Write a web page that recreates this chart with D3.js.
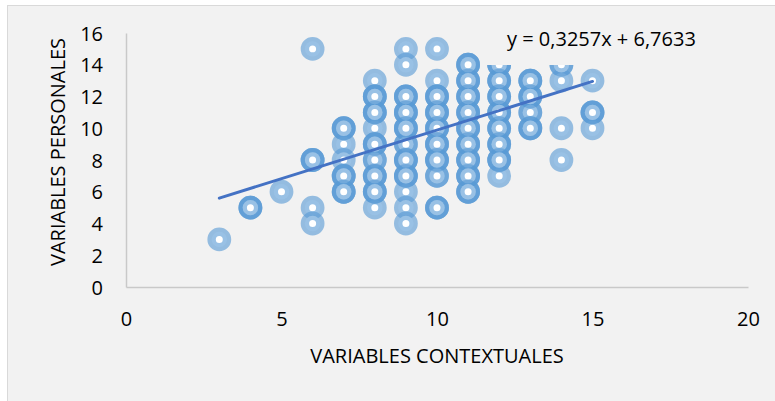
<!DOCTYPE html>
<html><head><meta charset="utf-8">
<script src="https://cdn.jsdelivr.net/npm/d3@7"></script>
<style>html,body{margin:0;padding:0;background:#fff;}svg{display:block;}</style>
</head><body>
<svg id="chart" width="775" height="401"></svg>
<script>
// ---- data ----
const xTicks = [0, 5, 10, 15, 20];
const yTicks = [0, 2, 4, 6, 8, 10, 12, 14, 16];
const xTitle = "VARIABLES CONTEXTUALES";
const yTitle = "VARIABLES PERSONALES";
const equationLabel = "y = 0,3257x + 6,7633";
// scatter points (x, y) and how many observations overlap at that position
const xValues = [3, 4, 5, 6,6,6,6, 7,7,7,7,7, 8,8,8,8,8,8,8,8,8, 9,9,9,9,9,9,9,9,9,9,9,
  10,10,10,10,10,10,10,10,10, 11,11,11,11,11,11,11,11,11, 12,12,12,12,12,12,12,12,
  13,13,13,13, 14,14,14,14, 15,15,15];
const yValues = [3, 5, 6, 15,8,5,4, 10,9,8,7,6, 13,12,11,10,9,8,7,6,5, 15,14,12,11,10,9,8,7,6,5,4,
  15,13,12,11,10,9,8,7,5, 14,13,12,11,10,9,8,7,6, 14,13,12,11,10,9,8,7,
  13,12,11,10, 14,13,10,8, 13,11,10];
const overlapCount = [1, 3, 1, 1,3,1,1, 3,1,1,3,3, 1,3,3,1,3,2,3,3,1, 1,1,3,3,3,2,3,3,1,1,1,
  1,1,3,3,3,3,3,2,3, 3,3,3,3,3,3,3,3,3, 3,3,3,3,3,3,3,1,
  3,3,2,3, 2,1,1,1, 1,3,1];
// linear trend line as drawn (end points)
const trendX = [3, 15];
const trendY = [5.6, 12.95];

// ---- drawing ----
const svg = d3.select("#chart");
const font = "'Open Sans', sans-serif";
const fs = 20;
svg.append("rect").attr("x", 7.5).attr("y", 5.5).attr("width", 800).attr("height", 420)
  .attr("fill", "#f2f2f2").attr("stroke", "#d9d9d9").attr("stroke-width", 1);

const x = d3.scaleLinear().domain([0, 20]).range([126, 748]);
const y = d3.scaleLinear().domain([0, 16]).range([287, 33]);

// axes
const xAxis = svg.append("g").attr("transform", `translate(0,${y(0)})`)
  .call(d3.axisBottom(x).tickValues(xTicks).tickSize(0).tickPadding(25));
const yAxis = svg.append("g").attr("transform", `translate(${x(0)},0)`)
  .call(d3.axisLeft(y).tickValues(yTicks).tickSize(0).tickPadding(23));
[xAxis, yAxis].forEach(g => {
  g.select(".domain").attr("stroke", "#c9c9c9").attr("stroke-width", 1.5);
  g.selectAll("text").attr("font-family", font).attr("font-size", fs).attr("fill", "#000");
});
yAxis.selectAll("text").attr("dy", "0.35em");

// points
const pts = xValues.map((xv, i) => ({x: xv, y: yValues[i], n: overlapCount[i]}));
const layers = d3.range(1, d3.max(overlapCount) + 1);
const gp = svg.append("g");
layers.forEach(k => {
  gp.selectAll(null).data(pts.filter(p => p.n >= k)).join("circle")
    .attr("cx", d => x(d.x)).attr("cy", d => y(d.y)).attr("r", 7.7)
    .attr("fill", "#fff")
    .attr("stroke", "rgba(91,155,213,0.62)").attr("stroke-width", 8.4);
});

// trend line
svg.append("line")
  .attr("x1", x(trendX[0])).attr("y1", y(trendY[0]))
  .attr("x2", x(trendX[1])).attr("y2", y(trendY[1]))
  .attr("stroke", "#4472c4").attr("stroke-width", 3).attr("stroke-linecap", "round");

// equation label with background box
svg.append("rect").attr("x", 484).attr("y", 20).attr("width", 250).attr("height", 45).attr("fill", "#f2f2f2");
svg.append("text").attr("x", 507).attr("y", 46).attr("font-family", font).attr("font-size", fs)
  .attr("fill", "#000").text(equationLabel);

// axis titles
svg.append("text").attr("x", (x(0) + x(20)) / 2).attr("y", 363).attr("text-anchor", "middle")
  .attr("font-family", font).attr("font-size", fs).attr("fill", "#000").text(xTitle);
svg.append("text").attr("transform", `translate(64.5,152) rotate(-90)`)
  .attr("text-anchor", "middle").attr("font-family", font).attr("font-size", fs)
  .attr("fill", "#000").text(yTitle);
</script>
</body></html>
